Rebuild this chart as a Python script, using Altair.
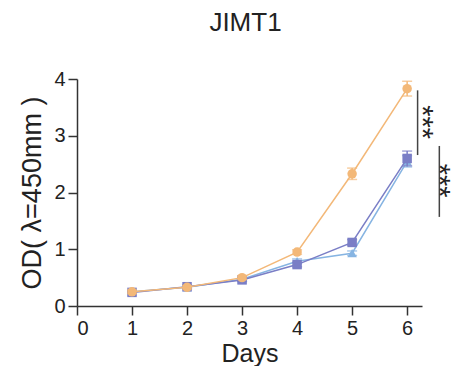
import altair as alt
import pandas as pd

days = [1, 2, 3, 4, 5, 6]
series_names = ["Control", "sh-1", "sh-2"]
orange_vals = [0.25, 0.33, 0.50, 0.95, 2.33, 3.83]
orange_err = [0.03, 0.03, 0.03, 0.04, 0.10, 0.13]
dark_vals = [0.24, 0.34, 0.46, 0.73, 1.12, 2.60]
dark_err = [0.02, 0.03, 0.03, 0.04, 0.05, 0.13]
light_vals = [0.25, 0.33, 0.47, 0.79, 0.93, 2.55]
light_err = [0.02, 0.03, 0.03, 0.04, 0.04, 0.10]
colors = ["#F3B878", "#7A7EC6", "#86B4E2"]
shapes = ["circle", "square", "triangle-up"]

sig_x = [6.19, 6.585]
sig_y1 = [3.80, 2.82]
sig_y2 = [2.66, 1.57]
sig_text_x = [6.36, 6.675]
sig_text_y = [3.24, 2.21]
sig_label = ["***", "***"]

rows = []
for name, vals, errs in [(series_names[0], orange_vals, orange_err),
                         (series_names[1], dark_vals, dark_err),
                         (series_names[2], light_vals, light_err)]:
    for d, v, e in zip(days, vals, errs):
        rows.append({"series": name, "day": d, "od": v, "lo": v - e, "hi": v + e})
df = pd.DataFrame(rows)
sig = pd.DataFrame({"x": sig_x, "y1": sig_y1, "y2": sig_y2, "label": sig_label,
                    "tx": sig_text_x, "ty": sig_text_y})

xs = alt.Scale(domain=[0, 6.27], nice=False, zero=False)
ys = alt.Scale(domain=[0, 4], nice=False)
cs = alt.Scale(domain=series_names, range=colors)
ss = alt.Scale(domain=series_names, range=shapes)

X = alt.X("day:Q", scale=xs, title="Days",
          axis=alt.Axis(values=[0, 1, 2, 3, 4, 5, 6], format="d", grid=False))
Y = alt.Y("od:Q", scale=ys, title="OD( λ=450mm )",
          axis=alt.Axis(values=[0, 1, 2, 3, 4], format="d", grid=False))

layers = []
order = [series_names[2], series_names[1], series_names[0]]
for name in order:
    sub = df[df.series == name]
    base = alt.Chart(sub)
    col = alt.Color("series:N", scale=cs, legend=None)
    line = base.mark_line(strokeWidth=1.5).encode(x=X, y=Y, color=col)
    err = base.mark_rule(strokeWidth=1.5).encode(x="day:Q", y="lo:Q", y2="hi:Q", color=col)
    cap_hi = base.mark_tick(orient="horizontal", size=10, thickness=1.5).encode(
        x="day:Q", y="hi:Q", color=col)
    cap_lo = base.mark_tick(orient="horizontal", size=10, thickness=1.5).encode(
        x="day:Q", y="lo:Q", color=col)
    pts = base.mark_point(filled=True, size=90, opacity=1).encode(
        x="day:Q", y="od:Q", color=col,
        shape=alt.Shape("series:N", scale=ss, legend=None))
    layers += [line, err, cap_hi, cap_lo, pts]

sig_rules = alt.Chart(sig).mark_rule(color="#444444", strokeWidth=1.5).encode(
    x="x:Q", y="y1:Q", y2="y2:Q")
sig_text = alt.Chart(sig).mark_text(angle=90, fontSize=29, font="Liberation Sans",
                                    color="#222222", align="center", baseline="middle",
                                    dy=5).encode(
    x="tx:Q", y="ty:Q", text="label:N")

chart = alt.layer(*layers, sig_rules, sig_text).properties(
    width=345, height=227,
    title=alt.TitleParams("JIMT1", fontSize=26, font="Liberation Sans", fontWeight="normal",
                          color="#222222", anchor="middle", offset=33, dx=-4),
    autosize=alt.AutoSizeParams(type="none"),
    padding={"left": 69, "top": 71, "right": 33, "bottom": 60},
).configure_view(stroke=None).configure_axis(
    domainColor="#333333", domainWidth=1.5, tickColor="#333333", tickWidth=1.5,
    tickSize=9, labelFont="Liberation Sans", labelFontSize=20, labelColor="#222222",
    titleFont="Liberation Sans", titleFontSize=26, titleFontWeight="normal",
    titleColor="#222222", labelPadding=3
).configure_axisY(titlePadding=7, titleFontSize=27).configure_axisX(titlePadding=3,
                                                                    titleFontSize=25)

chart.save("out.html", embed_options={"renderer": "svg", "actions": False})
